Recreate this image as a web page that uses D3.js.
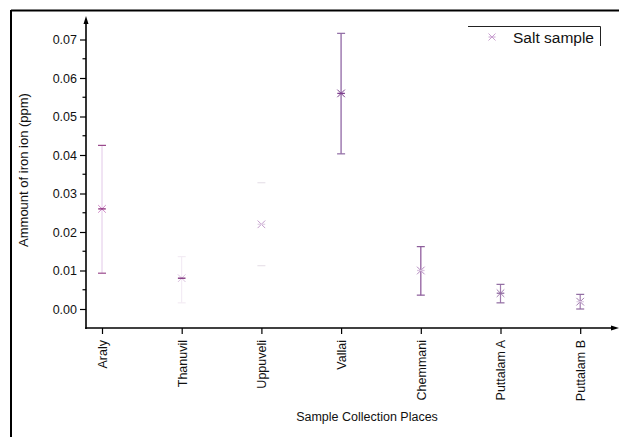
<!DOCTYPE html>
<html><head><meta charset="utf-8">
<script src="https://cdn.jsdelivr.net/npm/d3@7/dist/d3.min.js"></script>
<style>body{margin:0;background:#fff}svg{display:block}text{font-family:"Liberation Sans",Arial,sans-serif}</style>
</head><body><svg id="c" width="619" height="437"></svg>
<script>
const categories = ["Araly","Thanuvil","Uppuveli","Vallai","Chemmani","Puttalam A","Puttalam B"];
const values     = [0.026, 0.008, 0.022, 0.056, 0.010, 0.0041, 0.0019];
const errUpper   = [0.0425, 0.0136, 0.0328, 0.0716, 0.0162, 0.0064, 0.0038];
const errLower   = [0.0093, 0.0016, 0.01125, 0.0403, 0.0036, 0.0016, 0.0000];
const yTicks     = [0.00,0.01,0.02,0.03,0.04,0.05,0.06,0.07];
const seriesName = "Salt sample";

// styles (how faint each error bar appears in the picture)
const barStyle = [
  {line:"#e2c8e8", cap:"#9a4a8c", lw:1,   mark:"#d08ac8", dash:"#8a2a7a"},
  {line:"#f1e8f3", cap:"#f3ecf4", lw:1,   mark:"#dcc4e0", dash:"#7a2a78"},
  {line:"#ffffff", cap:"#e8e2ea", lw:1,   mark:"#c39ccc", dash:"#e2d2e6"},
  {line:"#a584b6", cap:"#8e6aa3", lw:1.6, mark:"#7d3f8e", dash:"#7d3f8e"},
  {line:"#9a6aa6", cap:"#8a5a98", lw:1.4, mark:"#b48ac0", dash:"#d9c4df"},
  {line:"#a07aae", cap:"#8f6aa0", lw:1.2, mark:"#a27cb0", dash:"#8f6aa0"},
  {line:"#a07aae", cap:"#8f6aa0", lw:1.2, mark:"#a27cb0", dash:"#e0d0e6"}
];

const svg = d3.select("#c");
// outer frame
svg.append("line").attr("x1",11).attr("x2",619).attr("y1",10.5).attr("y2",10.5).attr("stroke","#000").attr("stroke-width",2);
svg.append("line").attr("x1",11).attr("x2",11).attr("y1",10).attr("y2",437).attr("stroke","#000").attr("stroke-width",2);

const x = d3.scalePoint().domain(categories).range([102, 580.2]);
const y = d3.scaleLinear().domain([-0.005, 0.075]).range([328.25, 20.25]);
const axisX0 = 86, axisY0 = 328;

// y axis
const ya = svg.append("g").attr("transform",`translate(${axisX0},0)`)
  .call(d3.axisLeft(y).tickValues(yTicks).tickFormat(d3.format(".2f")).tickSize(6).tickPadding(3));
ya.select(".domain").remove();
ya.selectAll("line").attr("stroke","#000").attr("stroke-width",1.2);
ya.selectAll("text").attr("font-size",12.5).attr("fill","#111");
const minor = d3.range(0.005, 0.07, 0.01);
svg.append("g").selectAll("line").data(minor).join("line")
  .attr("x1",axisX0-3.5).attr("x2",axisX0).attr("y1",d=>y(d)).attr("y2",d=>y(d))
  .attr("stroke","#000").attr("stroke-width",1.2);
svg.append("line").attr("x1",axisX0).attr("x2",axisX0).attr("y1",axisY0+1).attr("y2",20).attr("stroke","#000").attr("stroke-width",1.6);
svg.append("path").attr("d",`M${axisX0},16 L${axisX0-2.5},24 L${axisX0+2.5},24Z`).attr("fill","#000");

// x axis
const xa = svg.append("g").attr("transform",`translate(0,${axisY0})`)
  .call(d3.axisBottom(x).tickSize(6).tickSizeOuter(0));
xa.select(".domain").remove();
xa.selectAll("line").attr("stroke","#000").attr("stroke-width",1.2);
xa.selectAll("text").attr("font-size",12.5).attr("fill","#111")
  .attr("transform","rotate(-90)").attr("text-anchor","end")
  .attr("x",-12).attr("y",0).attr("dy","0.35em");
svg.append("line").attr("x1",axisX0-0.8).attr("x2",614).attr("y1",axisY0).attr("y2",axisY0).attr("stroke","#000").attr("stroke-width",1.6);
svg.append("path").attr("d",`M619,${axisY0} L611,${axisY0-2.5} L611,${axisY0+2.5}Z`).attr("fill","#000");

// axis titles
svg.append("text").attr("transform",`translate(28,170) rotate(-90)`).attr("text-anchor","middle")
  .attr("font-size",13).attr("fill","#111").text("Ammount of iron ion (ppm)");
svg.append("text").attr("x",367).attr("y",421).attr("text-anchor","middle")
  .attr("font-size",12.5).attr("fill","#111").text("Sample Collection Places");

// error bars and markers
const g = svg.append("g");
categories.forEach((c,i)=>{
  const st = barStyle[i], cx = x(c);
  g.append("line").attr("x1",cx).attr("x2",cx).attr("y1",y(errUpper[i])).attr("y2",y(errLower[i]))
    .attr("stroke",st.line).attr("stroke-width",st.lw);
  [errUpper[i], errLower[i]].forEach(v=>{
    g.append("line").attr("x1",cx-4).attr("x2",cx+4).attr("y1",y(v)).attr("y2",y(v))
      .attr("stroke",st.cap).attr("stroke-width",1.2);
  });
  const cy = y(values[i]), r = 3.8;
  const m = g.append("g").attr("stroke-width",1);
  m.append("line").attr("x1",cx-r).attr("x2",cx+r).attr("y1",cy-r).attr("y2",cy+r).attr("stroke",st.mark);
  m.append("line").attr("x1",cx-r).attr("x2",cx+r).attr("y1",cy+r).attr("y2",cy-r).attr("stroke",st.mark);
  m.append("line").attr("x1",cx-r).attr("x2",cx+r).attr("y1",cy).attr("y2",cy).attr("stroke",st.dash).attr("stroke-width",1.3);
});

// legend
const lg = svg.append("g");
lg.append("path").attr("d","M468,26.5 H600.5 V46").attr("fill","none").attr("stroke","#222").attr("stroke-width",1);
const lx = 492, ly = 37, lr = 3.5;
const lm = lg.append("g").attr("stroke","#c9a0d0").attr("stroke-width",1);
lm.append("line").attr("x1",lx-lr).attr("x2",lx+lr).attr("y1",ly-lr).attr("y2",ly+lr);
lm.append("line").attr("x1",lx-lr).attr("x2",lx+lr).attr("y1",ly+lr).attr("y2",ly-lr);
lm.append("line").attr("x1",lx-lr).attr("x2",lx+lr).attr("y1",ly).attr("y2",ly);
lg.append("text").attr("x",513).attr("y",42.5).attr("font-size",15.5).attr("fill","#111").text(seriesName);
</script></body></html>
